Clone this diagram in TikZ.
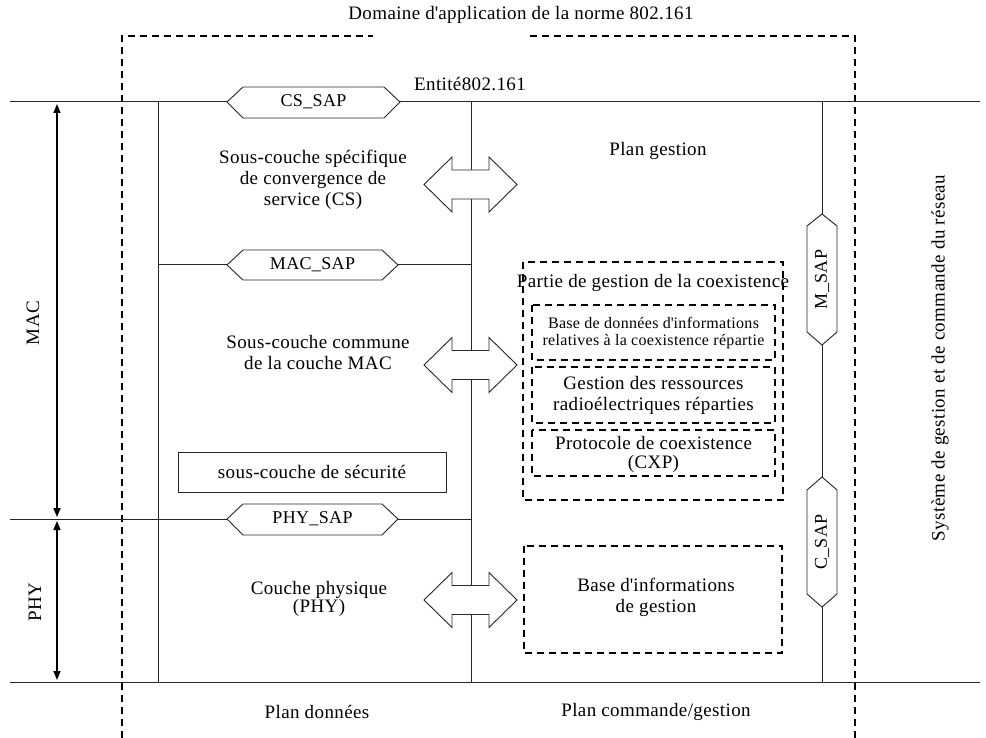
\documentclass[tikz,border=0pt]{standalone}
\usepackage{fontspec}
\setmainfont{Liberation Serif}[LetterSpace=2]
\usetikzlibrary{arrows.meta}
\begin{document}
\begin{tikzpicture}[x=1pt,y=-1pt,
  font=\fontsize{19}{21}\selectfont,
  solidline/.style={line width=1pt, draw=black!85},
  dashline/.style={line width=1.8pt, dash pattern=on 7pt off 5pt},
  hexshape/.style={draw=black!85, fill=white, line width=0.9pt},
  blockarrow/.style={draw=black!85, fill=white, line width=0.9pt},
  dimarrow/.style={line width=1.6pt, {Triangle[length=9pt,width=7pt]}-{Triangle[length=9pt,width=7pt]}},
  lbl/.style={align=center, inner sep=0pt},
  smalllbl/.style={align=center, inner sep=0pt, font=\fontsize{16}{17}\selectfont},
  saplbl/.style={inner sep=0pt, font=\fontsize{18}{20}\selectfont},
  dbox/.style={dashline},
  barrow/.pic={\draw[blockarrow] (-46.5,0) -- (-18.5,-27.5) -- (-18.5,-14.5) -- (18.5,-14.5) -- (18.5,-27.5) -- (46.5,0) -- (18.5,27.5) -- (18.5,14.5) -- (-18.5,14.5) -- (-18.5,27.5) -- cycle;}
]
\useasboundingbox (0,0) rectangle (986,738);

% coordinates of the frame lines
\coordinate (tl) at (10,102);  \coordinate (tr) at (980,102);
\coordinate (bl) at (10,682);  \coordinate (br) at (980,682);
\coordinate (lt) at (158,102); \coordinate (lb) at (158,682);
\coordinate (mt) at (471,102); \coordinate (mb) at (471,682);
\coordinate (rt) at (822,102); \coordinate (rb) at (822,682);
\coordinate (macl) at (158,265); \coordinate (macr) at (471,265);
\coordinate (phyl) at (10,519);  \coordinate (phyr) at (471,519);

% outer dashed domain
\coordinate (d1) at (122,738); \coordinate (d2) at (122,36); \coordinate (d3) at (373,36);
\coordinate (d4) at (530,36); \coordinate (d5) at (855,36); \coordinate (d6) at (855,738);
\draw[dashline] (d1) -- (d2) -- (d3);
\draw[dashline] (d4) -- (d5) -- (d6);

% solid lines
\draw[solidline] (tl) -- (tr);
\draw[solidline] (bl) -- (br);
\draw[solidline] (lt) -- (lb);
\draw[solidline] (mt) -- (mb);
\draw[solidline] (rt) -- (rb);
\draw[solidline] (macl) -- (macr);
\draw[solidline] (phyl) -- (phyr);

% dimension arrows
\coordinate (ma) at (57,104); \coordinate (mz) at (57,517);
\coordinate (pa) at (57,521); \coordinate (pz) at (57,680);
\draw[dimarrow] (ma) -- (mz);
\draw[dimarrow] (pa) -- (pz);
\node[lbl, rotate=90] (maclbl) at (33,323) {MAC};
\node[lbl, rotate=90] (phylbl) at (35,602) {PHY};

% SAP hexagons (horizontal)
\draw[hexshape] (227,102) -- (243,87) -- (384,87) -- (400,102) -- (384,118) -- (243,118) -- cycle;
\node[saplbl] (cssap) at (313.5,102) {CS\_SAP};
\draw[hexshape] (227,265) -- (243,250) -- (382,250) -- (398,265) -- (382,280) -- (243,280) -- cycle;
\node[saplbl] (macsap) at (312.5,265) {MAC\_SAP};
\draw[hexshape] (227,519) -- (243,504) -- (382,504) -- (398,519) -- (382,535) -- (243,535) -- cycle;
\node[saplbl] (physap) at (312.5,519) {PHY\_SAP};

% SAP hexagons (vertical)
\draw[hexshape] (822,214) -- (837,226) -- (837,332) -- (822,345) -- (807,332) -- (807,226) -- cycle;
\node[saplbl, rotate=90] (msap) at (822,279.5) {M\_SAP};
\draw[hexshape] (822,477) -- (837,490) -- (837,594) -- (822,607) -- (807,594) -- (807,490) -- cycle;
\node[saplbl, rotate=90] (csap) at (822,542) {C\_SAP};

% block arrows
\pic at (470.5,184.5) {barrow};
\pic at (470.5,365) {barrow};
\pic at (470.5,600) {barrow};

% titles
\node[lbl] (title) at (521,15) {Domaine d\textquotesingle application de la norme 802.161};
\node[lbl] (entite) at (470,84) {Entité802.161};
\node[lbl] (plangest) at (658,151) {Plan gestion};

% left texts
\node[lbl] (cs) at (313,180) {Sous-couche spécifique\\de convergence de\\service (CS)};
\node[lbl] (cps) at (318,353) {Sous-couche commune\\de la couche MAC};
\node[draw=black!85, line width=0.9pt, minimum width=268, minimum height=40, inner sep=0pt] (secu) at (312,472) {sous-couche de sécurité};
\node[lbl, font=\fontsize{19}{18}\selectfont] (phy) at (319,599) {Couche physique\\(PHY)};

% coexistence part
\draw[dbox] (523,262) rectangle (783,500);
\node[lbl] (coex) at (653,283) {Partie de gestion de la coexistence};
\draw[dbox] (532,305) rectangle (775,360);
\node[smalllbl] (bdd) at (653.5,333) {Base de données d\textquotesingle informations\\relatives à la coexistence répartie};
\draw[dbox] (532,367) rectangle (775,423);
\node[lbl] (grr) at (653.5,395.5) {Gestion des ressources\\radioélectriques réparties};
\draw[dbox] (532,430) rectangle (775,476);
\node[lbl, font=\fontsize{19}{19}\selectfont] (cxp) at (653.5,454) {Protocole de coexistence\\(CXP)};

% management information base
\draw[dbox] (524,546) rectangle (782,653);
\node[lbl] (mib) at (656,597.5) {Base d\textquotesingle informations\\de gestion};

% bottom and right labels
\node[lbl] (pdon) at (317,712) {Plan données};
\node[lbl] (pcmd) at (656,712) {Plan commande/gestion};
\node[lbl, rotate=90] (nms) at (940,358) {Système de gestion et de commande du réseau};
\end{tikzpicture}
\end{document}
